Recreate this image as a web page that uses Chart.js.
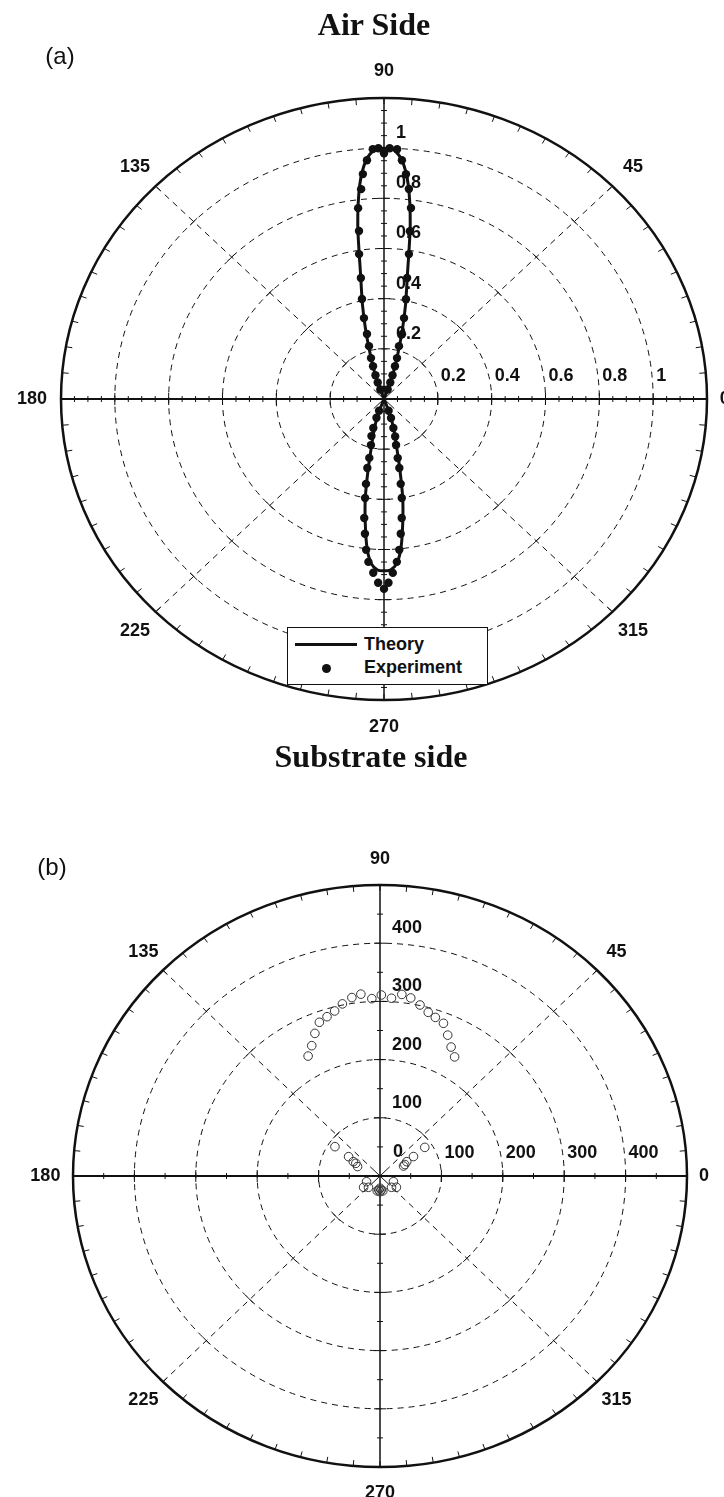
<!DOCTYPE html>
<html lang="en">
<head>
  <meta charset="UTF-8">
  <title>Angular emission pattern</title>
  <style>
    body {
      margin: 0;
      background: #fff;
      width: 724px;
      height: 1497px;
      position: relative;
      overflow: hidden;
      font-family: "Liberation Sans", Arial, sans-serif;
      color: #111;
    }
    .chart-box {
      position: absolute;
      left: 0;
      width: 724px;
    }
    .side-title {
      position: absolute;
      font-family: "Liberation Serif", "Times New Roman", serif;
      font-weight: bold;
      font-size: 32px;
      transform: translate(-50%, -50%);
      white-space: nowrap;
    }
    .panel-tag {
      position: absolute;
      font-size: 24px;
      transform: translate(-50%, -50%);
    }
    #legendA {
      position: absolute;
      left: 287px;
      top: 627px;
      width: 199px;
      height: 56px;
      border: 1.5px solid #111;
      background: #fff;
      font-weight: bold;
      font-size: 18px;
    }
    #legendA .lbl {
      position: absolute;
      left: 76px;
      transform: translateY(-50%);
    }
    #legendA .swatch-line {
      position: absolute;
      left: 7px;
      top: 15px;
      width: 62px;
      height: 3px;
      background: #111;
    }
    #legendA .swatch-dot {
      position: absolute;
      left: 34px;
      top: 36px;
      width: 9px;
      height: 9px;
      border-radius: 50%;
      background: #111;
    }
  </style>
</head>
<body>
  <div class="chart-box" style="top:0; height:770px;"><canvas id="chartA"></canvas></div>
  <div class="chart-box" style="top:770px; height:727px;"><canvas id="chartB"></canvas></div>

  <div class="side-title" style="left:374px; top:24px;">Air Side</div>
  <div class="panel-tag" style="left:60px; top:56px;">(a)</div>
  <div class="side-title" style="left:371px; top:756px;">Substrate side</div>
  <div class="panel-tag" style="left:52px; top:867px;">(b)</div>

  <div id="legendA">
    <span class="swatch-line"></span><span class="lbl" style="top:16px;">Theory</span>
    <span class="swatch-dot"></span><span class="lbl" style="top:39px;">Experiment</span>
  </div>

  <script src="https://cdn.jsdelivr.net/npm/chart.js@4.4.1/dist/chart.umd.min.js"></script>
  <script>
    // ---- panel (a): normalised intensity ----
    const theoryAngles = [68, 70, 72, 74, 76, 78, 80, 82, 84, 86, 88, 90, 92, 94, 96, 98, 100, 102, 104, 106, 108, 110, 112,
                          248, 250, 252, 254, 256, 258, 260, 262, 264, 266, 268, 270, 272, 274, 276, 278, 280, 282, 284, 286, 288, 290, 292];
    const theoryR = [0, 0.06, 0.12, 0.185, 0.28, 0.385, 0.50, 0.70, 0.86, 0.955, 0.995, 1.0, 0.995, 0.955, 0.86, 0.70, 0.50, 0.385, 0.28, 0.185, 0.12, 0.06, 0,
                     0, 0.05, 0.10, 0.14, 0.19, 0.28, 0.40, 0.50, 0.60, 0.66, 0.682, 0.685, 0.682, 0.66, 0.60, 0.50, 0.40, 0.28, 0.19, 0.14, 0.10, 0.05, 0];

    const expAngles = [70, 70.5, 71.5, 72.7, 73.5, 75.2, 75.5, 77.0, 78.4, 79.9, 80.9, 81.8, 82.5, 83.7, 84.8, 86.0, 87.2, 88.8, 90, 91.2,
                       92.4, 93.8, 95.0, 95.8, 97.2, 97.9, 99.1, 100.1, 101.6, 103.0, 103.7, 104.8, 106.5, 107.3, 108.5, 109.5, 110,
                       248.5, 249.5, 251.0, 252.5, 255.2, 256.9, 257.3, 258.8, 259.9, 261.2, 262.5, 263.7, 264.9, 266.7, 268.3, 270,
                       271.3, 272.7, 274.2, 275.4, 276.6, 277.9, 279.5, 280.4, 281.7, 282.2, 283.7, 285.5, 286.7, 289, 290];
    const expR = [0.04, 0.07, 0.10, 0.137, 0.170, 0.218, 0.267, 0.331, 0.406, 0.490, 0.585, 0.676, 0.768, 0.842, 0.900, 0.954, 0.997, 1.0, 0.98, 1.0,
                  0.997, 0.954, 0.900, 0.841, 0.767, 0.676, 0.585, 0.490, 0.407, 0.331, 0.267, 0.218, 0.170, 0.137, 0.10, 0.07, 0.04,
                  0.05, 0.08, 0.122, 0.155, 0.190, 0.241, 0.282, 0.345, 0.401, 0.480, 0.542, 0.605, 0.652, 0.694, 0.733, 0.757,
                  0.733, 0.694, 0.651, 0.604, 0.541, 0.479, 0.400, 0.344, 0.281, 0.241, 0.189, 0.155, 0.121, 0.08, 0.05];

    const ringsA = [0.2, 0.4, 0.6, 0.8, 1.0];

    // ---- panel (b): measured counts ----
    const bAngles = [59.3, 62.4, 65.5, 68.5, 71.7, 74.4, 77.5, 80.7, 83.5, 86.5, 89.6, 92.5, 95.7, 98.5, 101.7, 104.6, 107.5, 110.5, 113.4, 116.4, 119.6,
                     24, 26, 29.5, 31.5, 34, 145.5, 147, 150.5, 151, 156,
                     204, 216, 226, 260, 265, 270, 270, 275, 280, 314, 324, 336];
    const bCounts = [238, 250, 266, 282, 287, 292, 301, 310, 314, 306, 311, 305, 314, 310, 302, 293, 287, 282, 267, 250, 237,
                     42, 45, 50, 64, 88, 89, 61, 50, 45, 40,
                     24, 33, 27, 26, 24, 27, 21, 24, 26, 27, 33, 24];

    const ringsB = [100, 200, 300, 400];
    const angleLabels = [0, 45, 90, 135, 180, 225, 270, 315];

    function toXY(angles, radii) {
      return angles.map((a, i) => ({
        x: radii[i] * Math.cos(a * Math.PI / 180),
        y: radii[i] * Math.sin(a * Math.PI / 180)
      }));
    }

    // polar frame drawn on top of the x/y scales (ellipses, since x and y px/unit differ)
    const polarGrid = {
      id: 'polarGrid',
      beforeDatasetsDraw(chart, args, opts) {
        const { ctx, scales: { x, y } } = chart;
        const cx = x.getPixelForValue(0), cy = y.getPixelForValue(0);
        const pt = (r, deg) => {
          const t = deg * Math.PI / 180;
          return [x.getPixelForValue(r * Math.cos(t)), y.getPixelForValue(r * Math.sin(t))];
        };
        const seg = (a, b) => { ctx.beginPath(); ctx.moveTo(a[0], a[1]); ctx.lineTo(b[0], b[1]); ctx.stroke(); };
        const rmax = opts.rmax;

        ctx.save();
        ctx.strokeStyle = '#111';
        ctx.lineWidth = 1;
        ctx.setLineDash([6, 5]);
        opts.rings.forEach(r => {
          ctx.beginPath();
          ctx.ellipse(cx, cy, x.getPixelForValue(r) - cx, cy - y.getPixelForValue(r), 0, 0, 2 * Math.PI);
          ctx.stroke();
        });
        [45, 135, 225, 315].forEach(a => seg(pt(rmax * 0.06, a), pt(rmax, a)));
        ctx.setLineDash([]);

        // small cross ticks where spokes meet rings
        [45, 135, 225, 315].forEach(a => {
          opts.rings.forEach(r => {
            const [px, py] = pt(r, a);
            const t = (a + 90) * Math.PI / 180;
            seg([px - 5 * Math.cos(t), py + 5 * Math.sin(t)], [px + 5 * Math.cos(t), py - 5 * Math.sin(t)]);
          });
        });
        // tiny centre cross
        [45, 135, 225, 315].forEach(a => seg([cx, cy], pt(rmax * 0.045, a)));

        // outer circle with inward ticks every 5 degrees
        ctx.lineWidth = 2.5;
        ctx.beginPath();
        ctx.ellipse(cx, cy, x.getPixelForValue(rmax) - cx, cy - y.getPixelForValue(rmax), 0, 0, 2 * Math.PI);
        ctx.stroke();
        ctx.lineWidth = 1;
        for (let a = 0; a < 360; a += 5) seg(pt(rmax, a), pt(rmax * 0.98, a));

        // axes
        ctx.lineWidth = 2;
        seg(pt(rmax, 180), pt(rmax, 0));
        ctx.lineWidth = 1.5;
        seg(pt(rmax, 270), pt(rmax, 90));
        ctx.lineWidth = 1;
        const n = Math.round(rmax / opts.tickStep);
        for (let i = -n + 1; i < n; i++) {
          if (i === 0) continue;
          const v = i * opts.tickStep;
          const big = opts.rings.some(r => Math.abs(Math.abs(v) - r) < 1e-9);
          const h = big ? 6 : 3;
          const px = x.getPixelForValue(v), py = y.getPixelForValue(v);
          seg([px, cy - h], [px, cy + h]);
          seg([cx - h, py], [cx + h, py]);
        }
        ctx.restore();
      },
      afterDatasetsDraw(chart, args, opts) {
        const { ctx, scales: { x, y } } = chart;
        const cx = x.getPixelForValue(0), cy = y.getPixelForValue(0);
        ctx.save();
        ctx.fillStyle = '#111';
        ctx.font = 'bold 18px "Liberation Sans", Arial, sans-serif';
        ctx.textBaseline = 'middle';

        ctx.textAlign = 'center';
        angleLabels.forEach(a => {
          const f = a === 0 ? 1.055 : 1.09;
          const t = a * Math.PI / 180;
          ctx.fillText(String(a), x.getPixelForValue(opts.rmax * f * Math.cos(t)), y.getPixelForValue(opts.rmax * f * Math.sin(t)));
        });

        ctx.textAlign = 'left';
        opts.rings.forEach(r => {
          const txt = String(+r.toFixed(1));
          ctx.fillText(txt, x.getPixelForValue(r) + 3, cy - 23);
          ctx.fillText(txt, cx + 12, y.getPixelForValue(r) - 15);
        });
        if (opts.zeroLabel) ctx.fillText('0', cx + 13, cy - 24);
        ctx.restore();
      }
    };

    function baseOptions(rmax, padding, grid) {
      return {
        responsive: true,
        maintainAspectRatio: false,
        animation: false,
        layout: { padding },
        scales: {
          x: { type: 'linear', min: -rmax, max: rmax, display: false },
          y: { type: 'linear', min: -rmax, max: rmax, display: false }
        },
        plugins: {
          legend: { display: false },
          tooltip: { enabled: false },
          polarGrid: grid
        }
      };
    }

    new Chart(document.getElementById('chartA'), {
      type: 'scatter',
      data: {
        datasets: [
          {
            label: 'Theory',
            data: toXY(theoryAngles, theoryR),
            showLine: true,
            tension: 0.25,
            borderColor: '#111',
            borderWidth: 3,
            pointRadius: 0
          },
          {
            label: 'Experiment',
            data: toXY(expAngles, expR),
            pointRadius: 4.2,
            backgroundColor: '#111',
            borderColor: '#111',
            borderWidth: 0
          }
        ]
      },
      options: baseOptions(1.2, { left: 61, right: 17, top: 98, bottom: 70 },
        { rmax: 1.2, rings: ringsA, tickStep: 0.05, zeroLabel: false }),
      plugins: [polarGrid]
    });

    new Chart(document.getElementById('chartB'), {
      type: 'scatter',
      data: {
        datasets: [
          {
            label: 'Counts',
            data: toXY(bAngles, bCounts),
            pointRadius: 4.3,
            backgroundColor: 'rgba(255,255,255,0)',
            borderColor: '#333',
            borderWidth: 1
          }
        ]
      },
      options: baseOptions(500, { left: 73, right: 37, top: 115, bottom: 30 },
        { rmax: 500, rings: ringsB, tickStep: 50, zeroLabel: true }),
      plugins: [polarGrid]
    });
  </script>
</body>
</html>
